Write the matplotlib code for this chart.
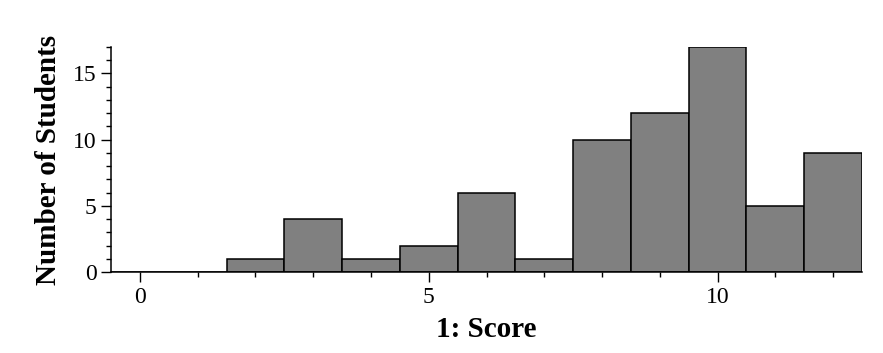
import matplotlib
matplotlib.use("Agg")
import matplotlib.pyplot as plt
from matplotlib.ticker import MultipleLocator

# score histogram data
scores = [0, 1, 2, 3, 4, 5, 6, 7, 8, 9, 10, 11, 12]
counts = [0, 0, 1, 4, 1, 2, 6, 1, 10, 12, 17, 5, 9]
x_ticks = [0, 5, 10]
y_ticks = [0, 5, 10, 15]

plt.rcParams['font.family'] = ['Liberation Serif', 'DejaVu Serif']

fig = plt.figure(figsize=(8.83, 3.53), dpi=100)
ax = fig.add_axes([111/883, (353-272)/353, (862-111)/883, (272-47)/353])

ax.bar(scores, counts, width=1.0, color='#808080', edgecolor='black', linewidth=1.1)

ax.set_xlim(-0.5, 12.5)
ax.set_ylim(0, 17)
ax.set_xticks(x_ticks)
ax.set_yticks(y_ticks)
ax.xaxis.set_minor_locator(MultipleLocator(1))
ax.yaxis.set_minor_locator(MultipleLocator(1))
ax.tick_params(which='major', length=7, width=1.0, labelsize=17, direction='out')
ax.tick_params(which='minor', length=3.5, width=1.0, direction='out')

for s in ['top', 'right']:
    ax.spines[s].set_visible(False)
for s in ['left', 'bottom']:
    ax.spines[s].set_linewidth(1.1)

ax.set_xlabel("1: Score", fontsize=21, fontweight='bold', labelpad=6)
ax.set_ylabel("Number of Students", fontsize=21, fontweight='bold', labelpad=8)

plt.savefig("out.png", dpi=100)
plt.close()
